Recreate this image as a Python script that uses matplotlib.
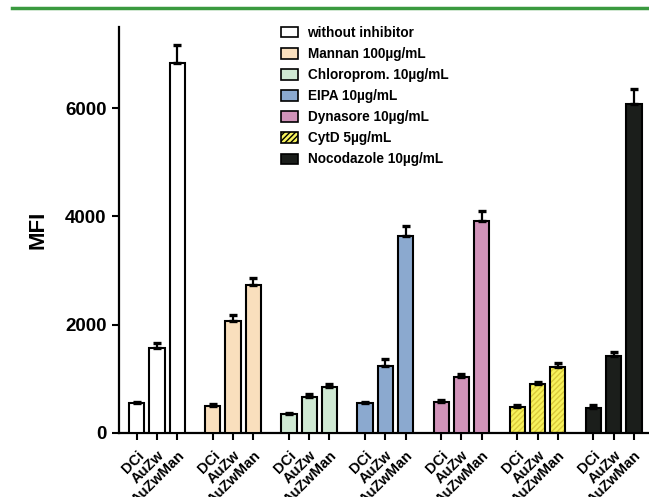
import matplotlib.pyplot as plt
import matplotlib.patches as patches
import matplotlib.lines as mlines
import numpy as np

plt.rcParams['font.family'] = ['Liberation Sans', 'DejaVu Sans']
plt.rcParams['font.weight'] = 'bold'

cells = ['DCi', 'AuZw', 'AuZwMan']
treatments = [
    'without inhibitor',
    'Mannan 100\u00b5g/mL',
    'Chloroprom. 10\u00b5g/mL',
    'EIPA 10\u00b5g/mL',
    'Dynasore 10\u00b5g/mL',
    'CytD 5\u00b5g/mL',
    'Nocodazole 10\u00b5g/mL',
]
# MFI per treatment: DCi, AuZw, AuZwMan
mfi = [
    [540, 1570, 6830],
    [495, 2065, 2730],
    [340, 667, 840],
    [545, 1235, 3630],
    [575, 1025, 3905],
    [480, 895, 1222],
    [463, 1420, 6068],
]
sem = [
    [30, 80, 345],
    [30, 115, 135],
    [30, 45, 55],
    [30, 125, 190],
    [30, 60, 200],
    [30, 50, 60],
    [45, 70, 290],
]
colors = ['#ffffff', '#f9dfbd', '#cfe9d3', '#8ba9cf', '#d193b9', '#f7f25c', '#1b1e1b']

fig = plt.figure(figsize=(6.49, 4.97), dpi=100)
ax = fig.add_axes([119/649, 1-432.7/497, 1-119/649, (432.7-27)/497])

step = 3.75
width = 0.75
xs, labels = [], []
for g, (vals, errs, col) in enumerate(zip(mfi, sem, colors)):
    x = g*step + np.arange(3)
    if g == 5:
        # hatched yellow fill, then a black outline on top
        ax.bar(x, vals, width, color=col, edgecolor='#d9c93a', hatch='//////', linewidth=0, zorder=2)
        ax.bar(x, vals, width, fill=False, edgecolor='black', linewidth=1.5, zorder=3)
    else:
        ax.bar(x, vals, width, color=col, edgecolor='black', linewidth=1.5, zorder=3)
    ax.errorbar(x, vals, yerr=[np.zeros(3), errs], fmt='none', ecolor='black',
                elinewidth=1.6, capsize=2.6, capthick=2.4, zorder=4)
    xs.extend(x)
    labels.extend(cells)

ax.set_xlim(-0.87, 25.24)
ax.set_ylim(0, 7500)
ax.set_yticks([0, 2000, 4000, 6000])
ax.set_xticks(xs)
ax.set_xticklabels(labels, rotation=45, ha='right', rotation_mode='anchor', fontsize=10.5, fontweight='bold')
ax.tick_params(axis='y', labelsize=13.5, width=1.5, length=5, direction='out', pad=4)
ax.tick_params(axis='x', width=1.5, length=5, direction='out', pad=6)
for s in ['top', 'right']:
    ax.spines[s].set_visible(False)
for s in ['left', 'bottom']:
    ax.spines[s].set_linewidth(1.6)
for t in ax.get_yticklabels():
    t.set_fontweight('bold')
ax.set_ylabel('MFI', fontsize=16, fontweight='bold', labelpad=12)

handles = []
for g, (lab, col) in enumerate(zip(treatments, colors)):
    if g == 5:
        h = patches.Patch(facecolor=col, edgecolor='black', hatch='//////', linewidth=1.2, label=lab)
    else:
        h = patches.Patch(facecolor=col, edgecolor='black', linewidth=1.2, label=lab)
    handles.append(h)
ax.legend(handles=handles, loc='upper left', bbox_to_anchor=(281/649, 1-26/497),
          bbox_transform=fig.transFigure, frameon=False,
          handlelength=1.25, handleheight=0.8, handletextpad=0.7,
          labelspacing=0.52, borderpad=0, borderaxespad=0,
          prop={'weight': 'bold', 'size': 9.8})

fig.add_artist(mlines.Line2D([12/649, 1], [1-7.5/497, 1-7.5/497], color='#3a9a3f',
                             linewidth=2.5, transform=fig.transFigure))

fig.savefig('out.png', dpi=100)
